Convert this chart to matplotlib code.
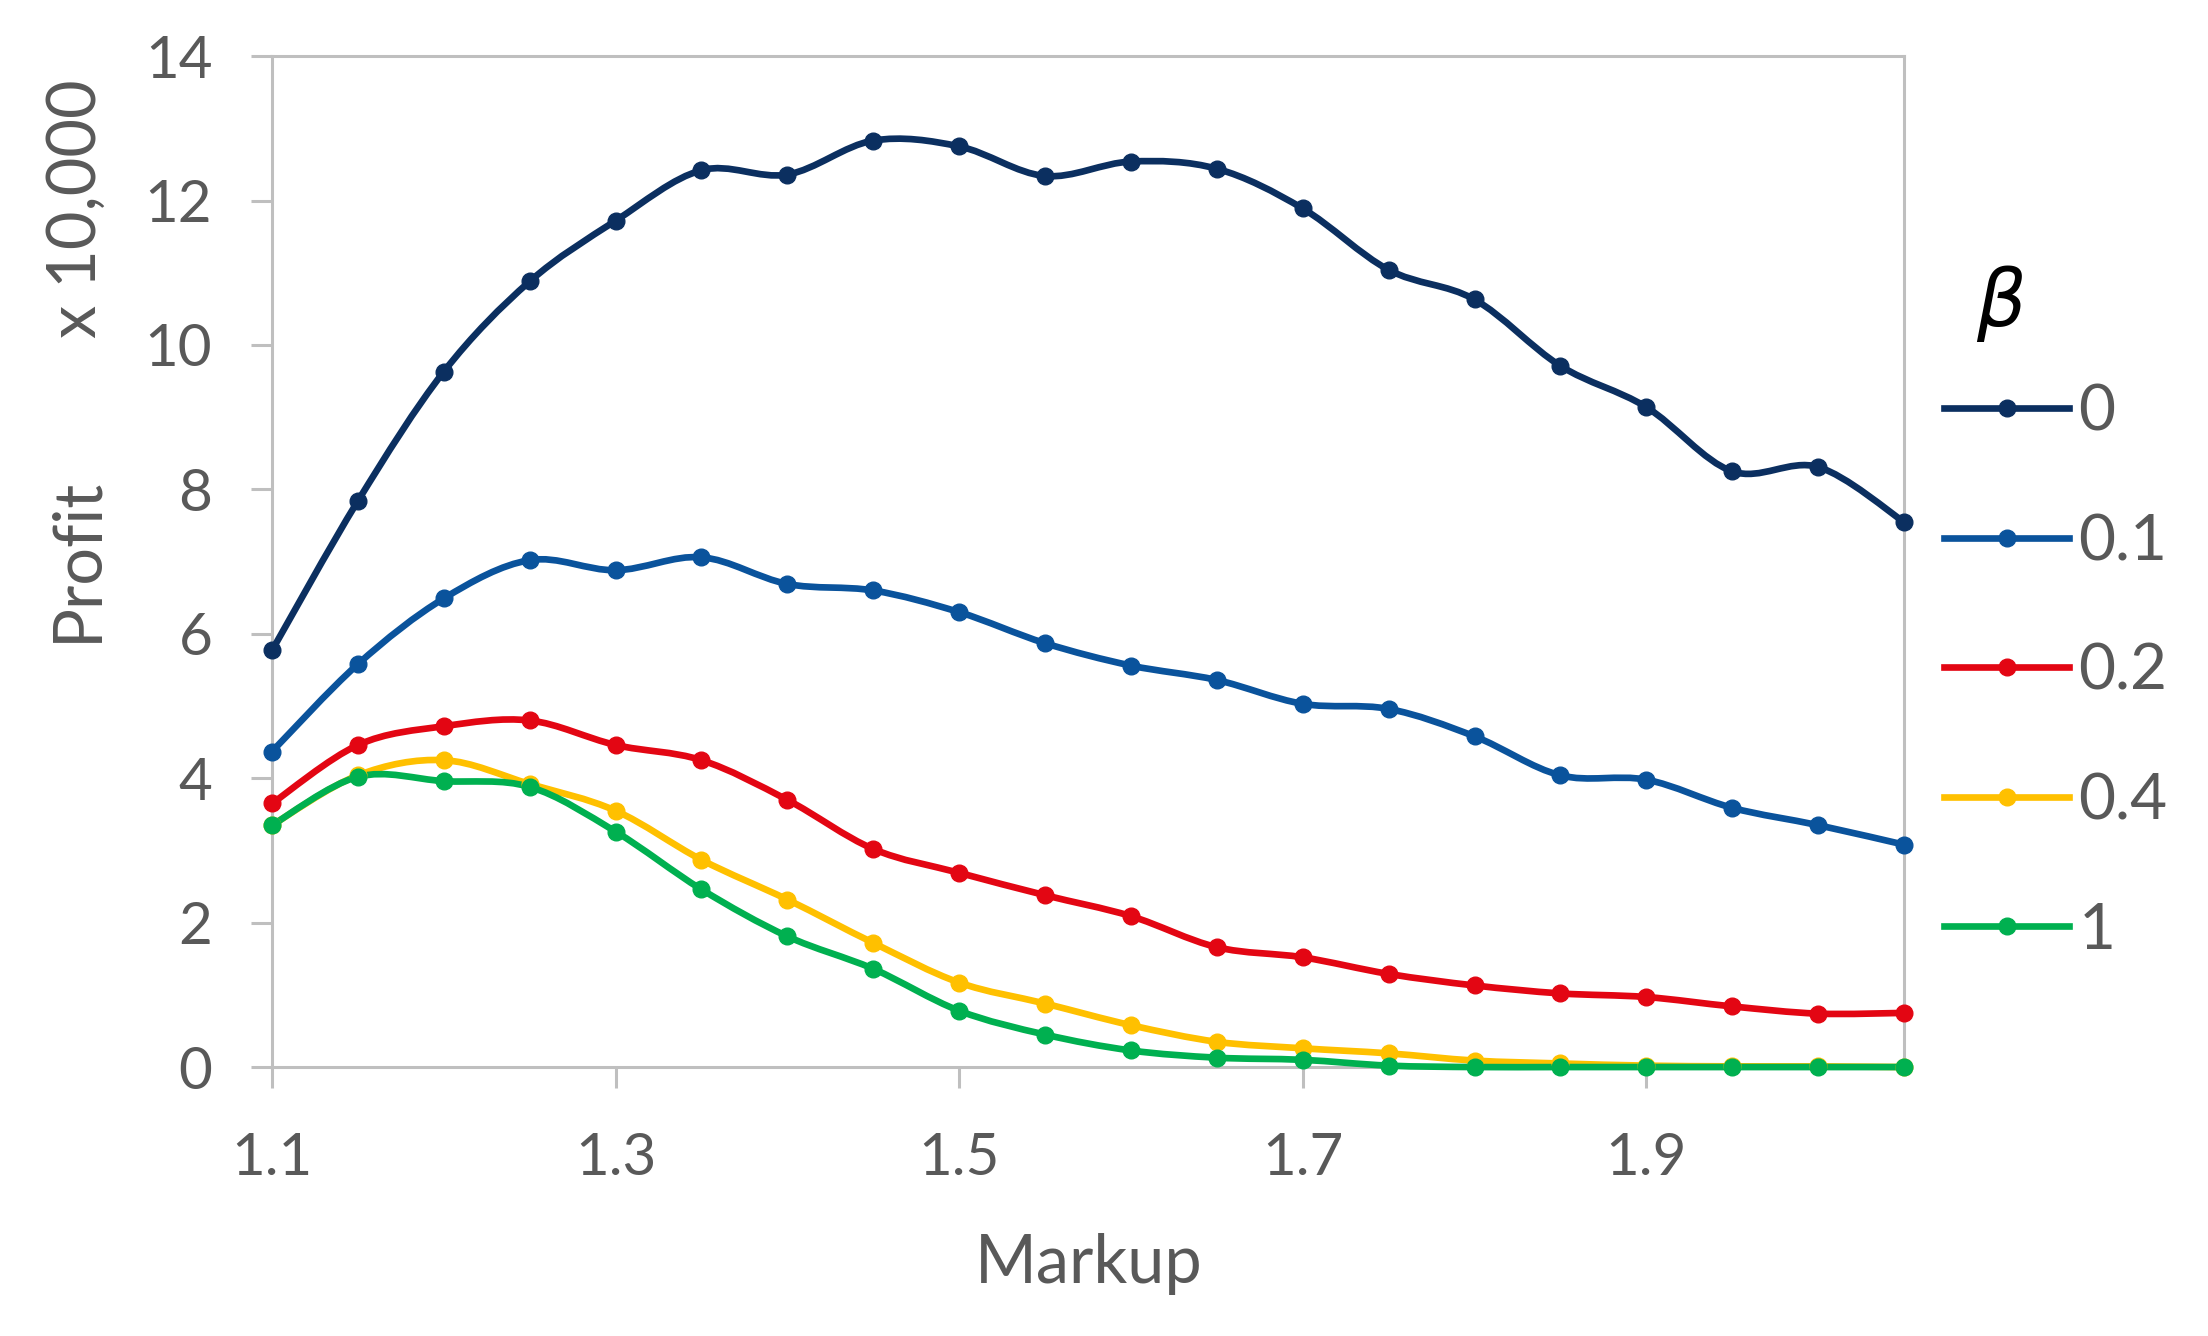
import numpy as np
from matplotlib import pyplot as plt
from matplotlib.path import Path
from matplotlib.patches import PathPatch
from matplotlib.lines import Line2D

plt.rcParams['font.family'] = ['Lato', 'DejaVu Sans']

markup = [1.10, 1.15, 1.20, 1.25, 1.30, 1.35, 1.40, 1.45, 1.50, 1.55,
          1.60, 1.65, 1.70, 1.75, 1.80, 1.85, 1.90, 1.95, 2.00, 2.05]

beta_labels = ['0', '0.1', '0.2', '0.4', '1']

profit_b0 = [5.77, 7.84, 9.63, 10.88, 11.72, 12.42, 12.36, 12.83, 12.75, 12.34,
             12.54, 12.44, 11.89, 11.04, 10.63, 9.71, 9.14, 8.25, 8.31, 7.55]
profit_b01 = [4.37, 5.58, 6.49, 7.02, 6.88, 7.06, 6.69, 6.60, 6.30, 5.87,
              5.56, 5.36, 5.03, 4.96, 4.58, 4.04, 3.98, 3.59, 3.35, 3.08]
profit_b02 = [3.65, 4.46, 4.72, 4.80, 4.46, 4.25, 3.70, 3.02, 2.69, 2.38,
              2.09, 1.66, 1.52, 1.29, 1.13, 1.02, 0.97, 0.84, 0.74, 0.75]
profit_b04 = [3.35, 4.04, 4.25, 3.92, 3.55, 2.87, 2.32, 1.72, 1.17, 0.88,
              0.58, 0.35, 0.26, 0.19, 0.09, 0.05, 0.02, 0.01, 0.01, 0.0]
profit_b1 = [3.35, 4.02, 3.96, 3.88, 3.26, 2.46, 1.81, 1.36, 0.78, 0.45,
             0.23, 0.13, 0.10, 0.02, 0.0, 0.0, 0.0, 0.0, 0.0, 0.0]

colors = ['#0b2f60', '#0a539c', '#e30613', '#ffc000', '#00b050']
series = [profit_b0, profit_b01, profit_b02, profit_b04, profit_b1]
text_grey = '#595959'
axis_grey = '#bfbfbf'


def smooth_path(xs, ys):
    # excel style smoothed line: cubic bezier through the points
    pts = np.column_stack([xs, ys])
    verts = [pts[0]]
    codes = [Path.MOVETO]
    n = len(pts)
    for i in range(n - 1):
        p0 = pts[i - 1] if i > 0 else pts[i]
        p1 = pts[i]
        p2 = pts[i + 1]
        p3 = pts[i + 2] if i + 2 < n else pts[i + 1]
        c1 = p1 + (p2 - p0) / 6.0
        c2 = p2 - (p3 - p1) / 6.0
        verts += [c1, c2, p2]
        codes += [Path.CURVE4] * 3
    return Path(verts, codes)


fig = plt.figure(figsize=(22.08, 13.36), dpi=100)
ax = fig.add_axes([0.1232, 0.2013, 0.7391, 0.7567])

for vals, c in zip(series, colors):
    patch = PathPatch(smooth_path(markup, vals), facecolor='none', edgecolor=c,
                      lw=4.8, capstyle='round', joinstyle='round', zorder=2,
                      clip_on=False)
    ax.add_patch(patch)
    ax.plot(markup, vals, ls='none', marker='o', ms=12, color=c, zorder=3,
            clip_on=False)

ax.set_xlim(1.1, 2.05)
ax.set_ylim(0, 14)
ax.set_xticks([1.1, 1.3, 1.5, 1.7, 1.9])
ax.set_xticklabels(['1.1', '1.3', '1.5', '1.7', '1.9'])
ax.set_yticks(range(0, 15, 2))

for sp in ax.spines.values():
    sp.set_color(axis_grey)
    sp.set_linewidth(2.2)
    sp.set_zorder(1)
ax.tick_params(axis='both', colors=axis_grey, width=2.2, length=15,
               labelcolor=text_grey, labelsize=42)
ax.tick_params(axis='x', pad=32)
ax.tick_params(axis='y', pad=28)

fig.text(0.493, 0.054, 'Markup', fontsize=48, color=text_grey,
         ha='center', va='center')
fig.text(0.035, 0.581, 'Profit', fontsize=48, color=text_grey,
         rotation=90, ha='center', va='center')
fig.text(0.035, 0.844, 'x 10,000', fontsize=48, color=text_grey,
         rotation=90, ha='center', va='center')
fig.text(0.906, 0.773, r'$\beta$', fontsize=56, color='black',
         ha='center', va='center')

handles = [Line2D([], [], color=c, lw=4.8, marker='o', ms=12) for c in colors]
leg = fig.legend(handles, beta_labels, loc='upper left',
                 bbox_to_anchor=(0.869, 0.732), frameon=False,
                 fontsize=46, handlelength=1.95, handletextpad=0.15,
                 labelspacing=1.12, borderaxespad=0)
for t in leg.get_texts():
    t.set_color(text_grey)

fig.savefig('out.png', dpi=100)
